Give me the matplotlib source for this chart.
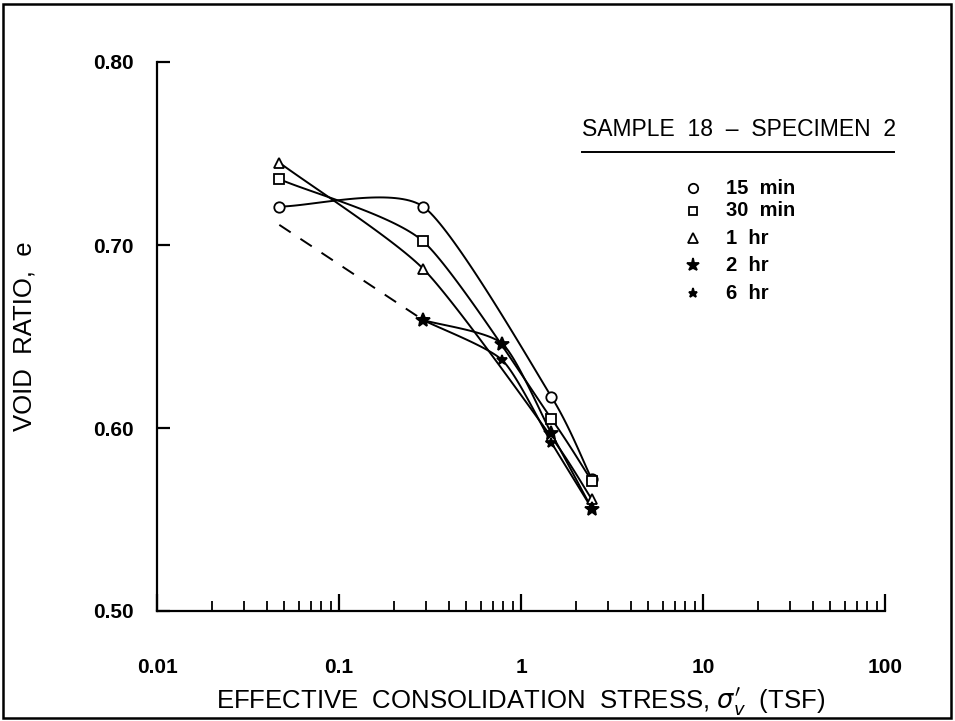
"""
Void ratio vs. effective consolidation stress (Sample 18 - Specimen 2).
Smooth curves are drawn as cardinal splines through the read points
in log10(stress) space, like the hand-drawn french curves of the original.
"""

import matplotlib
matplotlib.use("Agg")
import matplotlib.pyplot as plt
import numpy as np
from matplotlib.patches import Rectangle
from matplotlib.ticker import FixedLocator, NullFormatter, LogLocator

plt.rcParams["font.family"] = ["Liberation Sans Narrow", "Liberation Sans", "DejaVu Sans"]

# ------------------------------------------------------------------
# Data
# ------------------------------------------------------------------
stress_15min = [0.047, 0.29, 1.47, 2.45]
void_15min = [0.721, 0.721, 0.617, 0.572]

stress_30min = [0.047, 0.29, 1.47, 2.45]
void_30min = [0.736, 0.702, 0.605, 0.571]

stress_1hr = [0.047, 0.29, 1.47, 2.45]
void_1hr = [0.745, 0.687, 0.595, 0.561]

stress_2hr = [0.29, 0.79, 1.47, 2.45]
void_2hr = [0.659, 0.646, 0.597, 0.556]

stress_6hr = [0.29, 0.79, 1.47, 2.45]
void_6hr = [0.659, 0.637, 0.592, 0.556]

# dashed extrapolation back to the seating load
stress_dash = [0.047, 0.29]
void_dash = [0.711, 0.659]

legend_labels = ["15  min", "30  min", "1  hr", "2  hr", "6  hr"]
x_tick_vals = [0.01, 0.1, 1, 10, 100]
x_tick_labels = ["0.01", "0.1", "1", "10", "100"]
y_tick_vals = [0.50, 0.60, 0.70, 0.80]
y_tick_labels = ["0.50", "0.60", "0.70", "0.80"]


def smooth_curve(xs, ys, tension=0.35, n=40):
    """Cardinal spline through the points, computed in log-x space."""
    pts = np.column_stack([np.log10(xs), ys])
    ext = np.vstack([2 * pts[0] - pts[1], pts, 2 * pts[-1] - pts[-2]])
    t = np.linspace(0, 1, n)[:, None]
    h00 = 2 * t ** 3 - 3 * t ** 2 + 1
    h10 = t ** 3 - 2 * t ** 2 + t
    h01 = -2 * t ** 3 + 3 * t ** 2
    h11 = t ** 3 - t ** 2
    out = []
    for i in range(1, len(ext) - 2):
        p0, p1, p2, p3 = ext[i - 1], ext[i], ext[i + 1], ext[i + 2]
        m1 = (1 - tension) * (p2 - p0) / 2
        m2 = (1 - tension) * (p3 - p1) / 2
        out.append(h00 * p1 + h10 * m1 + h01 * p2 + h11 * m2)
    out = np.vstack(out)
    return 10 ** out[:, 0], out[:, 1]


fig = plt.figure(figsize=(9.55, 7.21), dpi=100)
ax = fig.add_axes([157 / 955, 110 / 721, 728 / 955, 549 / 721])

series = [
    (stress_15min, void_15min, "o", 7.5, "white"),
    (stress_30min, void_30min, "s", 6.5, "white"),
    (stress_1hr, void_1hr, "^", 7.5, "white"),
    (stress_2hr, void_2hr, "*", 10.5, "black"),
    (stress_6hr, void_6hr, "*", 7.5, "black"),
]

for xs, ys, mk, ms, fc in series:
    cx, cy = smooth_curve(xs, ys)
    ax.plot(cx, cy, color="black", lw=1.4, zorder=2)
    ax.plot(xs, ys, ls="none", marker=mk, ms=ms, mfc=fc, mec="black",
            mew=1.3, zorder=3, clip_on=False)

ax.plot(stress_dash, void_dash, color="black", lw=1.4, ls=(0, (7, 6)))

ax.set_xscale("log")
ax.set_xlim(0.01, 100)
ax.set_ylim(0.50, 0.80)

ax.spines["top"].set_visible(False)
ax.spines["right"].set_visible(False)
for s in ("left", "bottom"):
    ax.spines[s].set_linewidth(1.6)

ax.xaxis.set_major_locator(FixedLocator(x_tick_vals))
ax.set_xticklabels(x_tick_labels)
ax.xaxis.set_minor_locator(LogLocator(base=10, subs=np.arange(2, 10)))
ax.xaxis.set_minor_formatter(NullFormatter())
ax.set_yticks(y_tick_vals)
ax.set_yticklabels(y_tick_labels)

ax.tick_params(axis="x", which="major", direction="in", length=12, width=1.6,
               pad=34, labelsize=15)
ax.tick_params(axis="x", which="minor", direction="in", length=7, width=1.3)
ax.tick_params(axis="y", which="major", direction="in", length=9, width=1.6,
               pad=17, labelsize=15)
for lab in ax.get_xticklabels() + ax.get_yticklabels():
    lab.set_fontweight("bold")

ax.set_xlabel(r"EFFECTIVE  CONSOLIDATION  STRESS, $\sigma_v'$  (TSF)",
              fontsize=18.5)
ax.xaxis.set_label_coords(0.50, -0.135)
ax.set_ylabel("VOID  RATIO,  e", fontsize=18.5)
ax.yaxis.set_label_coords(-0.165, 0.50)

# legend block, drawn by hand like the original
ax.text(0.584, 0.857, "SAMPLE  18  \u2013  SPECIMEN  2", transform=ax.transAxes,
        fontsize=16.5, ha="left", va="bottom")
ax.plot([0.584, 1.013], [0.836, 0.836], transform=ax.transAxes, color="black",
        lw=1.4, clip_on=False)
leg_y = [0.770, 0.729, 0.679, 0.630, 0.579]
for (xs, ys, mk, ms, fc), lab, yy in zip(series, legend_labels, leg_y):
    ax.plot([0.736], [yy], transform=ax.transAxes, marker=mk, ms=ms * 0.9,
            mfc=fc, mec="black", mew=1.3, ls="none")
    ax.text(0.782, yy, lab, transform=ax.transAxes, fontsize=14.5,
            fontweight="bold", ha="left", va="center")

fig.add_artist(Rectangle((3 / 955, 3 / 721), 948 / 955, 714 / 721,
                         transform=fig.transFigure, fill=False,
                         edgecolor="black", lw=1.8))

fig.savefig("out.png", dpi=100)
